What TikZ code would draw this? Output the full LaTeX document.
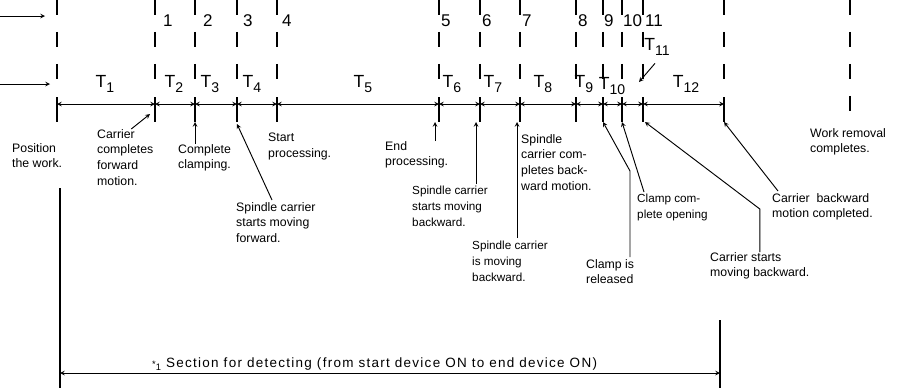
\documentclass[tikz,border=0pt]{standalone}
\usepackage{fontspec}
\setmainfont{Liberation Sans}
\usetikzlibrary{arrows, positioning, calc}

\newcommand{\per}[1]{T\raisebox{-0.45ex}{\fontsize{12}{12}\selectfont #1}}

\begin{document}
\begin{tikzpicture}[x=0.03cm, y=-0.03cm,
  guide/.style={line width=1pt, dash pattern=on 12.75pt off 14.5pt},
  tick/.style={line width=1pt},
  dim/.style={<->, >=stealth, line width=0.8pt},
  arrow/.style={->, >=stealth, line width=0.8pt},
  note/.style={anchor=north west, inner sep=0pt, align=left, font=\fontsize{10.5}{13.5}\selectfont},
  tightnote/.style={note, font=\fontsize{10}{13.5}\selectfont},
  num/.style={anchor=west, inner sep=0pt, font=\fontsize{14.5}{14.5}\selectfont},
  period/.style={inner sep=0pt, font=\fontsize{15}{15}\selectfont}
]
\useasboundingbox (0,0) rectangle (912,388);

%% Inputs
\coordinate (in1) at (0,16);
\coordinate (in1end) at (45,16);
\coordinate (in2) at (0,84);
\coordinate (in2end) at (50,84);
\draw[arrow] (in1) -- (in1end);
\draw[arrow] (in2) -- (in2end);

%% Time marks
\foreach \n/\x in {0/57, 1/155, 2/195, 3/237, 4/277, 5/439, 6/480, 7/520, 8/576, 9/603, 10/622, 11/643, 12/724} {
  \draw[guide] (\x,0) -- (\x,82);
  \coordinate (m\n) at (\x,104);
  \coordinate (b\n) at (\x,122);
  \draw[tick] (\x,97) -- (b\n);
}
\draw[guide] (850,0) -- (850,122);

%% Step numbers
\foreach \n/\x in {1/163, 2/203, 3/243, 4/282, 5/441, 6/482, 7/522, 8/578, 9/604, 10/623, 11/645}
  \node[num] (k\n) at (\x,21) {\n};

%% Periods
\node[period] (p1) at (105,84) {\per{1}};
\node[period] (p2) at (174,84) {\per{2}};
\node[period] (p3) at (210,84) {\per{3}};
\node[period] (p4) at (252,84) {\per{4}};
\node[period] (p5) at (363,84) {\per{5}};
\node[period] (p6) at (452,84) {\per{6}};
\node[period] (p7) at (493,84) {\per{7}};
\node[period] (p8) at (543,84) {\per{8}};
\node[period] (p9) at (584,84) {\per{9}};
\node[period] (p10) at (612,86) {\per{10}};
\node[period] (p11) at (657,47) {\per{11}};
\node[period] (p12) at (686,84) {\per{12}};

%% Dimension line
\foreach \a/\b in {0/1, 1/2, 2/3, 3/4, 4/5, 5/6, 6/7, 7/8, 8/9, 9/10, 10/11, 11/12}
  \draw[dim] (m\a) -- (m\b);

%% Notes
\node[note] (pos) at (12,143) {Position\\the work.};
\node[note] (cfwd) at (97,129) {Carrier\\completes\\forward\\motion.};
\node[note] (clamp) at (178,144) {Complete\\clamping.};
\node[note] (start) at (268,133) {Start\\processing.};
\node[note] (sfwd) at (236,202) {Spindle carrier\\starts moving\\forward.};
\node[note] (endp) at (385,141) {End\\processing.};
\node[tightnote] (sbwd) at (412,186) {Spindle carrier\\starts moving\\backward.};
\node[note] (scomp) at (521,134) {Spindle\\carrier com-\\pletes back-\\ward motion.};
\node[tightnote] (smov) at (472,241) {Spindle carrier\\is moving\\backward.};
\node[note] (crel) at (586,259) {Clamp is\\released};
\node[tightnote] (copen) at (637,194) {Clamp com-\\plete opening};
\node[note] (cstart) at (710,252) {Carrier starts\\moving backward.};
\node[note] (cbdone) at (772,193) {Carrier\ \ backward\\motion completed.};
\node[note] (wrem) at (810,128) {Work removal\\completes.};
\node[note, font=\fontsize{11.5}{13.5}\selectfont\addfontfeature{LetterSpace=9.5}] (sect) at (152,357) {{\fontsize{8}{8}\selectfont *\raisebox{-0.7ex}{1}} Section for detecting (from start device ON to end device ON)};

%% Pointers
\coordinate (a5) at ($(b5)+(-4,0)$);
\coordinate (a6) at ($(b6)+(-4,0)$);
\coordinate (a7) at ($(b7)+(-3,0)$);
\draw[arrow] ($(cfwd.north)+(6,0)$) -- ($(m1)+(-5,10)$);
\draw[arrow] (clamp.north -| b2) -- (b2);
\draw[arrow] ($(sfwd.north west)+(36,-2)$) -- ($(b3)+(0,2)$);
\draw[arrow] (a5 |- endp.north) -- (a5);
\draw[arrow] ($(a6 |- sbwd.north)+(0,-2)$) -- (a6);
\draw[arrow] ($(a7 |- smov.north)+(0,-3)$) -- (a7);
\draw[arrow] ($(crel.north west)+(44,-2)$) -- ++(0,-86) -- (b9);
\draw[arrow] ($(copen.north west)+(7,-2)$) -- (b10);
\draw[arrow] (cstart.north) -- ++(0,-43) -- ($(b11)+(2,0)$);
\draw[arrow] ($(cbdone.north west)+(6,-2)$) -- (b12);
\draw[arrow] ($(p11.south)+(-2,8)$) -- ($(b11)+(-4,-40)$);

%% Detecting section
\coordinate (ltop) at (60,188);
\coordinate (lbot) at (60,388);
\coordinate (rtop) at (720,320);
\coordinate (rbot) at (720,388);
\coordinate (s0) at (60,373);
\coordinate (s1) at (720,373);
\draw[tick] (ltop) -- (lbot);
\draw[tick] (rtop) -- (rbot);
\draw[dim] (s0) -- (s1);

\end{tikzpicture}
\end{document}
